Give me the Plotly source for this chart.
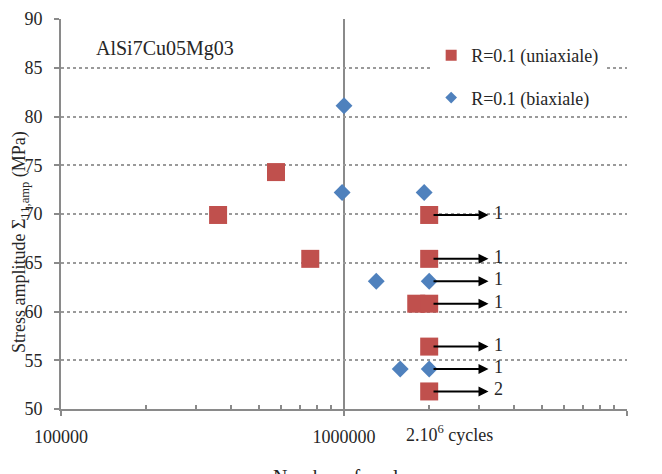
import math
import plotly.graph_objects as go

# ---- data ----
uni_cycles = [575000, 359000, 760000, 2.0e6, 2.0e6, 1.8e6, 2.0e6, 2.0e6, 2.0e6]
uni_stress = [74.3, 69.9, 65.4, 69.9, 65.4, 60.8, 60.8, 56.4, 51.8]

bi_cycles = [1.0e6, 985000, 1.92e6, 1.3e6, 2.0e6, 1.58e6, 2.0e6]
bi_stress = [81.1, 72.2, 72.2, 63.1, 63.1, 54.1, 54.1]

runout_cycles = 2.0e6
runout_stress = [69.9, 65.4, 63.1, 60.8, 56.4, 54.1, 51.8]
runout_counts = ["1", "1", "1", "1", "1", "1", "2"]

x_tickvals = [1e5, 1e6, 1e7]
x_ticktext = ["100000", "1000000", "10000000"]
x_minor = [m * 10 ** e for e in (5, 6) for m in range(2, 10)]

RED = "#C0504D"
BLUE = "#4F81BD"
AXIS = "#8a8a8a"
GRID = "#9a9a9a"
TXT = "#262626"
FONT = "Liberation Serif"

fig = go.Figure()
fig.add_trace(go.Scatter(x=uni_cycles, y=uni_stress, mode="markers",
                         marker=dict(symbol="square", size=18, color=RED),
                         showlegend=False))
fig.add_trace(go.Scatter(x=bi_cycles, y=bi_stress, mode="markers",
                         marker=dict(symbol="diamond", size=13, color=BLUE),
                         showlegend=False))
# legend-only entries
fig.add_trace(go.Scatter(x=[None], y=[None], mode="markers", name="R=0.1 (uniaxiale)",
                         legendgroup="a",
                         marker=dict(symbol="square", size=11, color=RED)))
fig.add_trace(go.Scatter(x=[None], y=[None], mode="markers", name="R=0.1 (biaxiale)",
                         legendgroup="b",
                         marker=dict(symbol="diamond", size=9, color=BLUE)))

annotations = []
x0 = math.log10(runout_cycles) + 0.01
x1 = math.log10(runout_cycles * 1.62)
for s, c in zip(runout_stress, runout_counts):
    annotations.append(dict(x=x1, y=s, ax=x0, ay=s, axref="x", ayref="y",
                            xref="x", yref="y", text="", showarrow=True,
                            arrowhead=2, arrowsize=1, arrowwidth=2,
                            arrowcolor="black"))
    annotations.append(dict(x=x1 + 0.012, y=s, xref="x", yref="y", text=c,
                            showarrow=False, xanchor="left", yanchor="middle",
                            yshift=2, font=dict(family=FONT, size=18, color=TXT)))

annotations.append(dict(x=0.058, y=0.9256, xref="paper", yref="paper",
                        text="AlSi7Cu05Mg03", showarrow=False, xanchor="left",
                        yanchor="middle", font=dict(family=FONT, size=20, color=TXT)))
annotations.append(dict(x=math.log10(runout_cycles), y=-0.062, xref="x", yref="paper",
                        xshift=20, text="2.10<sup>6</sup> cycles", showarrow=False,
                        xanchor="center", yanchor="middle",
                        font=dict(family=FONT, size=18, color=TXT)))
# axis titles
annotations.append(dict(x=0.5, y=-0.141, xref="paper", yref="paper",
                        text="Number of cycles", showarrow=False,
                        xanchor="center", yanchor="top",
                        font=dict(family=FONT, size=20, color=TXT)))
annotations.append(dict(x=-0.0724, y=0.428, xref="paper", yref="paper",
                        text="Stress amplitude Σ<sub>11,amp</sub> (MPa)", showarrow=False,
                        textangle=-90, xanchor="center", yanchor="middle", borderpad=0,
                        font=dict(family=FONT, size=18, color=TXT)))

fig.update_layout(
    width=654, height=466,
    margin=dict(l=53, r=35, t=11, b=65),
    plot_bgcolor="white", paper_bgcolor="white",
    font=dict(family=FONT, size=18, color=TXT),
    showlegend=True,
    legend=dict(x=0.654, y=0.954, xanchor="left", yanchor="top",
                bgcolor="white", tracegroupgap=16, traceorder="grouped",
                font=dict(family=FONT, size=18, color=TXT)),
    annotations=annotations,
)
fig.update_xaxes(type="log", range=[5, 7], tickmode="array",
                 tickvals=x_tickvals, ticktext=x_ticktext,
                 showgrid=True, gridcolor=AXIS, gridwidth=2,
                 showline=True, linecolor=AXIS, linewidth=2,
                 ticks="outside", ticklen=5, tickcolor=AXIS, tickwidth=2,
                 ticklabelstandoff=5,
                 minor=dict(tickmode="array", tickvals=x_minor, ticks="inside",
                            ticklen=4, tickcolor=AXIS, tickwidth=2, showgrid=False),
                 zeroline=False, automargin=False)
fig.update_yaxes(range=[50, 90], dtick=5, tick0=50,
                 showgrid=True, gridcolor=GRID, gridwidth=2, griddash="dot",
                 showline=True, linecolor=AXIS, linewidth=2,
                 ticks="outside", ticklen=5, tickcolor=AXIS, tickwidth=2,
                 ticklabelstandoff=8,
                 zeroline=False, automargin=False)

fig.write_html("out.html")
